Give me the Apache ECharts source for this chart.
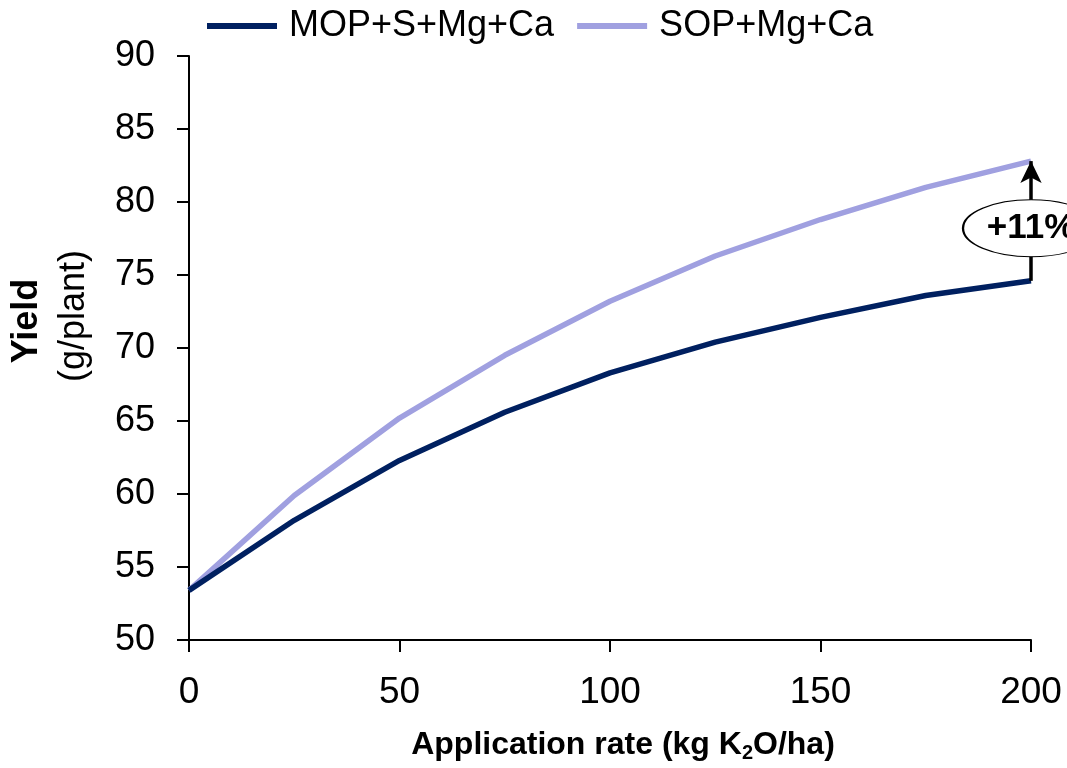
<!DOCTYPE html>
<html>
<head>
<meta charset="utf-8">
<script src="https://cdn.jsdelivr.net/npm/echarts@6/dist/echarts.min.js"></script>
<style>html,body{margin:0;padding:0;background:#fff}#c{width:1067px;height:768px}</style>
</head>
<body>
<div id="c"></div>
<script>
const rates = [0, 25, 50, 75, 100, 125, 150, 175, 200];
const mopYield = [53.4, 58.2, 62.3, 65.6, 68.3, 70.4, 72.1, 73.6, 74.6];
const sopYield = [53.4, 59.9, 65.2, 69.5, 73.2, 76.3, 78.8, 81.0, 82.8];
const seriesNames = ['MOP+S+Mg+Ca', 'SOP+Mg+Ca'];
const increaseLabel = '+11%';
const labelY = 78.2;

const FONT = '"Liberation Sans", Arial, sans-serif';
const chart = echarts.init(document.getElementById('c'), null, {renderer: 'canvas'});
const pair = (xs, ys) => xs.map((x, i) => [x, ys[i]]);
const last = rates.length - 1;

chart.setOption({
  animation: false,
  backgroundColor: '#fff',
  textStyle: {fontFamily: FONT},
  legend: {
    top: 3, left: 202,
    icon: 'rect', itemWidth: 70, itemHeight: 6, itemGap: 23,
    textStyle: {fontFamily: FONT, fontSize: 36, color: '#000', padding: [0, 0, 0, 7]},
    data: seriesNames
  },
  grid: {left: 189, right: 36, top: 56, bottom: 125},
  xAxis: {
    type: 'value', min: 0, max: 200, interval: 50,
    axisLine: {lineStyle: {color: '#000', width: 2}},
    axisTick: {length: 12, lineStyle: {color: '#000', width: 2}},
    splitLine: {show: false},
    axisLabel: {fontFamily: FONT, fontSize: 37, color: '#000', margin: 34},
    name: '{b|Application rate (kg K}{s|2}{b|O/ha)}',
    nameLocation: 'middle', nameGap: 88,
    nameTextStyle: {
      padding: [0, 0, 0, 26],
      rich: {
        b: {fontFamily: FONT, fontSize: 32, fontWeight: 'bold', color: '#000'},
        s: {fontFamily: FONT, fontSize: 20, fontWeight: 'bold', color: '#000', padding: [15, 0, 0, 0]}
      }
    }
  },
  yAxis: {
    type: 'value', min: 50, max: 90, interval: 5,
    axisLine: {show: true, lineStyle: {color: '#000', width: 2}},
    axisTick: {show: true, length: 12, lineStyle: {color: '#000', width: 2}},
    splitLine: {show: false},
    axisLabel: {fontFamily: FONT, fontSize: 36, color: '#000', margin: 34}
  },
  graphic: [
    {type: 'text', x: 27, y: 321, rotation: Math.PI / 2,
     style: {text: 'Yield', font: 'bold 36px ' + FONT, fill: '#000', align: 'center', verticalAlign: 'middle'}},
    {type: 'text', x: 74, y: 316, rotation: Math.PI / 2,
     style: {text: '(g/plant)', font: '36px ' + FONT, fill: '#000', align: 'center', verticalAlign: 'middle'}}
  ],
  series: [
    {
      name: seriesNames[0], type: 'line', data: pair(rates, mopYield),
      showSymbol: false, symbol: 'none',
      lineStyle: {color: '#002060', width: 5.5}, itemStyle: {color: '#002060'},
      z: 3,
      markLine: {
        silent: true, symbol: ['none', 'arrow'], symbolSize: [16, 22],
        label: {show: false},
        lineStyle: {color: '#000', width: 3.5, type: 'solid'},
        data: [[{coord: [rates[last], mopYield[last]]}, {coord: [rates[last], sopYield[last]]}]]
      }
    },
    {
      name: seriesNames[1], type: 'line', data: pair(rates, sopYield),
      showSymbol: false, symbol: 'none',
      lineStyle: {color: '#A0A0E0', width: 5.5}, itemStyle: {color: '#A0A0E0'},
      z: 2
    },
    {
      type: 'scatter', data: [[rates[last], labelY]], z: 10,
      symbol: 'path://M0 1 A1 1 0 1 1 2 1 A1 1 0 1 1 0 1 Z',
      symbolSize: [136, 57],
      itemStyle: {color: '#fff', borderColor: '#000', borderWidth: 1.5, opacity: 1},
      label: {show: true, position: 'inside', formatter: increaseLabel,
        fontFamily: FONT, fontSize: 35, fontWeight: 'bold', color: '#000'},
      silent: true
    }
  ]
});
</script>
</body>
</html>
